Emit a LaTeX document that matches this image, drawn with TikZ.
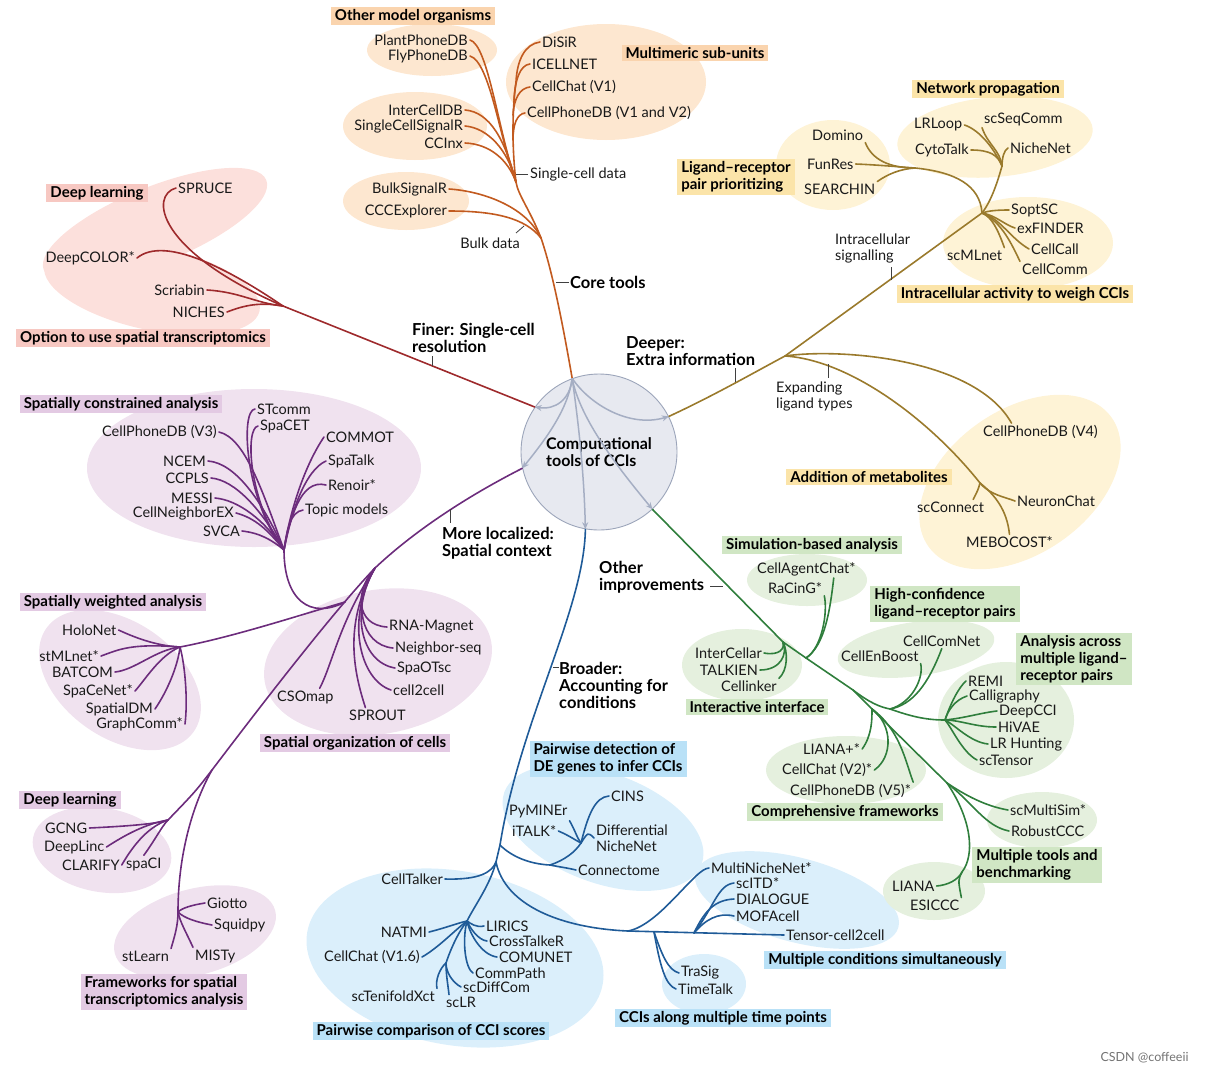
\documentclass[tikz,border=0pt]{standalone}
\usepackage{fontspec}
\setmainfont{Lato}
\usetikzlibrary{arrows.meta}
\definecolor{corecol}{HTML}{C25A1F}
\definecolor{coreblob}{HTML}{FDE7D0}
\definecolor{corehdr}{HTML}{FAD4AE}
\definecolor{redcol}{HTML}{9E2A2C}
\definecolor{redblob}{HTML}{FCE0DC}
\definecolor{redhdr}{HTML}{F7C8C2}
\definecolor{goldcol}{HTML}{9A7A2C}
\definecolor{goldblob}{HTML}{FEF3D6}
\definecolor{goldhdr}{HTML}{FBE4A9}
\definecolor{purcol}{HTML}{6C2C7C}
\definecolor{purblob}{HTML}{F0E2EF}
\definecolor{purhdr}{HTML}{E3CAE3}
\definecolor{blucol}{HTML}{1F5B98}
\definecolor{blublob}{HTML}{DBEFFB}
\definecolor{bluhdr}{HTML}{B9E1F7}
\definecolor{grncol}{HTML}{2F7E3C}
\definecolor{grnblob}{HTML}{E5F0DE}
\definecolor{grnhdr}{HTML}{D0E6C4}
\definecolor{cirfill}{HTML}{E7E9F0}
\definecolor{cirdraw}{HTML}{9CA5BA}
\definecolor{arrgray}{HTML}{A5AEC3}
\tikzset{
  br/.style     = {line width=1.6pt,line cap=round},
  tool/.style   = {font=\fontsize{14.5}{16}\selectfont,text=black!90,inner sep=2pt},
  note/.style   = {font=\fontsize{14.5}{16}\selectfont,text=black!90,inner sep=1pt,align=left},
  lead/.style   = {font=\fontsize{16.5}{17}\selectfont\bfseries,inner sep=1pt,align=left},
  hdr/.style    = {fill=#1,font=\fontsize{15}{17}\selectfont\bfseries,inner xsep=4pt,inner ysep=2.5pt,align=left},
  tick/.style   = {line width=0.8pt,draw=black!75},
  cirarr/.style = {-{Stealth[length=7pt,width=6pt]},line width=1.5pt,draw=arrgray}
}

\begin{document}
\begin{tikzpicture}[x=1pt,y=-1pt]
\useasboundingbox (0,0) rectangle (1206,1074);

% background blobs
\fill[coreblob] (432,50) ellipse [x radius=65pt,y radius=26pt];
\fill[coreblob] (606,82) ellipse [x radius=100pt,y radius=58pt];
\fill[coreblob] (415,126) ellipse [x radius=72pt,y radius=34pt];
\fill[coreblob] (406,201) ellipse [x radius=63pt,y radius=29pt];
\fill[redblob,rotate around={22:(155,225)}] (155,225) ellipse [x radius=120pt,y radius=38pt];
\fill[redblob,rotate around={-12:(152,288)}] (152,288) ellipse [x radius=110pt,y radius=42pt];
\fill[goldblob] (833,165) ellipse [x radius=57pt,y radius=45pt];
\fill[goldblob,rotate around={5:(995,137)}] (995,137) ellipse [x radius=98pt,y radius=40pt];
\fill[goldblob] (1028,243) ellipse [x radius=85pt,y radius=46pt];
\fill[goldblob,rotate around={35:(1020,482)}] (1020,482) ellipse [x radius=112pt,y radius=72pt];
\fill[purblob] (254,468) ellipse [x radius=167pt,y radius=79pt];
\fill[purblob,rotate around={-35:(120,680)}] (120,680) ellipse [x radius=90pt,y radius=58pt];
\fill[purblob,rotate around={10:(378,662)}] (378,662) ellipse [x radius=115pt,y radius=72pt];
\fill[purblob,rotate around={-10:(102,850)}] (102,850) ellipse [x radius=70pt,y radius=42pt];
\fill[purblob,rotate around={15:(195,932)}] (195,932) ellipse [x radius=83pt,y radius=43pt];
\fill[blublob,rotate around={-20:(603,828)}] (603,828) ellipse [x radius=105pt,y radius=55pt];
\fill[blublob,rotate around={-10:(455,958)}] (455,958) ellipse [x radius=150pt,y radius=87pt];
\fill[blublob,rotate around={-15:(797,900)}] (797,900) ellipse [x radius=105pt,y radius=42pt];
\fill[blublob] (704,984) ellipse [x radius=42pt,y radius=30pt];
\fill[grnblob] (807,580) ellipse [x radius=60pt,y radius=26pt];
\fill[grnblob] (742,665) ellipse [x radius=60pt,y radius=36pt];
\fill[grnblob,rotate around={8:(916,649)}] (916,649) ellipse [x radius=79pt,y radius=27pt];
\fill[grnblob] (1006,720) ellipse [x radius=68pt,y radius=58pt];
\fill[grnblob] (846,770) ellipse [x radius=80pt,y radius=34pt];
\fill[grnblob] (1042,820) ellipse [x radius=55pt,y radius=28pt];
\fill[grnblob] (934,891) ellipse [x radius=51pt,y radius=29pt];

% group headers
\node[hdr=corehdr] (hotherorg) at (413,16) {Other model organisms};
\node[hdr=corehdr] (hmulti) at (695,53) {Multimeric sub-units};
\node[hdr=redhdr] (hdeepr) at (97,193) {Deep learning};
\node[hdr=redhdr] (hoption) at (143,338) {Option to use spatial transcriptomics};
\node[hdr=goldhdr] (hnetwork) at (988,89) {Network propagation};
\node[hdr=goldhdr] (hligand) at (736,177) {Ligand--receptor\\pair prioritizing};
\node[hdr=goldhdr] (hintra) at (1015,294) {Intracellular activity to weigh CCIs};
\node[hdr=goldhdr] (hmetab) at (869,477) {Addition of metabolites};
\node[hdr=purhdr] (hconstr) at (121,404) {Spatially constrained analysis};
\node[hdr=purhdr] (hweight) at (113,602) {Spatially weighted analysis};
\node[hdr=purhdr] (horgan) at (355,743) {Spatial organization of cells};
\node[hdr=purhdr] (hdeepp) at (70,800) {Deep learning};
\node[hdr=purhdr] (hframe) at (164,992) {Frameworks for spatial\\transcriptomics analysis};
\node[hdr=bluhdr] (hdegene) at (608,759) {Pairwise detection of\\DE genes to infer CCIs};
\node[hdr=bluhdr] (hpairw) at (431,1031) {Pairwise comparison of CCI scores};
\node[hdr=bluhdr] (hmulcond) at (885,960) {Multiple conditions simultaneously};
\node[hdr=bluhdr] (htime) at (723,1018) {CCIs along multiple time points};
\node[hdr=grnhdr] (hsimul) at (812,545) {Simulation-based analysis};
\node[hdr=grnhdr] (hhighc) at (945,604) {High-confidence\\ligand--receptor pairs};
\node[hdr=grnhdr] (hacross) at (1074,659) {Analysis across\\multiple ligand--\\receptor pairs};
\node[hdr=grnhdr] (hinter) at (757,707) {Interactive interface};
\node[hdr=grnhdr] (hcompr) at (845,812) {Comprehensive frameworks};
\node[hdr=grnhdr] (hbench) at (1037,865) {Multiple tools and\\benchmarking};

% centre
\node[circle,draw=cirdraw,fill=cirfill,line width=0.9pt,minimum size=156pt,inner sep=0pt,
      font=\fontsize{16}{17}\selectfont\bfseries,align=left] (cct) at (599,452) {Computational\\tools of CCIs};
\coordinate (ctop) at (cct.110);

% ---------- core tools (orange)
\node[tool,left] (plant) at (470,40) {PlantPhoneDB};
\node[tool,left] (fly) at (470,56) {FlyPhoneDB};
\node[tool,right] (disir) at (540,42) {DiSiR};
\node[tool,right] (icell) at (530,64) {ICELLNET};
\node[tool,right] (cchat1) at (530,87) {CellChat (V1)};
\node[tool,right] (cpdb12) at (525,113) {CellPhoneDB (V1 and V2)};
\node[tool,left] (icdb) at (465,110) {InterCellDB};
\node[tool,left] (scsr) at (465,126) {SingleCellSignalR};
\node[tool,left] (ccinx) at (465,143) {CCInx};
\node[tool,left] (bsr) at (449,189) {BulkSignalR};
\node[tool,left] (ccce) at (449,211) {CCCExplorer};
\node[tool,right] (scdata) at (528,174) {Single-cell data};
\node[tool] (bulk) at (490,243) {Bulk data};
\node[lead,right] (coretools) at (569,282) {Core tools};
\coordinate (jbulk) at (541,238);
\coordinate (jsc) at (516,182);
\coordinate (jstem) at (516,82);
\begin{scope}[br,draw=corecol]
  \draw (ctop) .. controls (562,320) and (552,270) .. (jbulk) .. controls (530,210) and (518,195) .. (jsc);
  \draw (jsc) .. controls (512,150) and (512,110) .. (jstem);
  \draw (disir.west) .. controls (525,44) and (517,60) .. (jstem);
  \draw (icell.west) .. controls (520,65) and (515,80) .. (514,100);
  \draw (cchat1.west) .. controls (520,88) and (514,98) .. (513,115);
  \draw (cpdb12.west) .. controls (517,114) and (513,124) .. (513,140);
  \draw (plant.east) .. controls (488,45) and (498,130) .. (jsc);
  \draw (fly.east) .. controls (490,62) and (500,140) .. (jsc);
  \draw (icdb.east) .. controls (490,112) and (505,140) .. (jsc);
  \draw (scsr.east) .. controls (488,128) and (508,150) .. (jsc);
  \draw (ccinx.east) .. controls (490,144) and (508,160) .. (jsc);
  \draw (bsr.east) .. controls (480,191) and (525,205) .. (jbulk);
  \draw (ccce.east) .. controls (495,211) and (525,218) .. (jbulk);
\end{scope}
\draw[tick] (scdata.west) -- ++(-12,0);
\draw[tick] (coretools.west) -- ++(-13,0);
\draw[tick] (516,233) -- (524,226);

% ---------- finer (red)
\node[tool,right] (spruce) at (176,188) {SPRUCE};
\node[tool,left] (dcolor) at (137,258) {DeepCOLOR*};
\node[tool,left] (scriabin) at (207,290) {Scriabin};
\node[tool,left] (niches) at (227,312) {NICHES};
\node[lead,right] (finer) at (411,338) {Finer: Single-cell\\resolution};
\coordinate (jred) at (283,306);
\begin{scope}[br,draw=redcol]
  \draw (cct.145) -- (jred);
  \draw (spruce.west) .. controls (150,195) and (155,250) .. (jred);
  \draw (dcolor.east) .. controls (165,235) and (230,270) .. (jred);
  \draw (scriabin.east) .. controls (240,292) and (255,303) .. (jred);
  \draw (niches.east) .. controls (245,305) and (260,302) .. (jred);
\end{scope}
\draw[tick] (432,356) -- (432,366);

% ---------- deeper (gold)
\node[tool,right] (lrloop) at (912,125) {LRLoop};
\node[tool,right] (scseq) at (982,119) {scSeqComm};
\node[tool,right] (cytotalk) at (913,150) {CytoTalk};
\node[tool,right] (nichenet) at (1008,148) {NicheNet};
\node[tool,right] (domino) at (810,135) {Domino};
\node[tool,right] (funres) at (805,164) {FunRes};
\node[tool,right] (searchin) at (802,189) {SEARCHIN};
\node[tool,right] (soptsc) at (1009,210) {SoptSC};
\node[tool,right] (exfinder) at (1015,228) {exFINDER};
\node[tool,right] (cellcall) at (1029,249) {CellCall};
\node[tool,right] (cellcomm) at (1020,269) {CellComm};
\node[tool,right] (scmlnet) at (945,255) {scMLnet};
\node[tool,right] (cpv4) at (981,432) {CellPhoneDB (V4)};
\node[tool,right] (neuron) at (1015,501) {NeuronChat};
\node[tool,right] (scconnect) at (915,507) {scConnect};
\node[tool,right] (mebo) at (964,542) {MEBOCOST*};
\node[note,right] (intrasig) at (834,248) {Intracellular\\signalling};
\node[note,right] (expand) at (775,396) {Expanding\\ligand types};
\node[lead,right] (deeper) at (625,351) {Deeper:\\Extra information};
\coordinate (jexp) at (785,356);
\coordinate (jintra) at (982,213);
\coordinate (jnet) at (1002,166);
\coordinate (jlig) at (915,168);
\coordinate (jmet) at (980,483);
\begin{scope}[br,draw=goldcol]
  \draw (cct.27) .. controls (715,395) and (755,372) .. (jexp) -- (jintra);
  \draw (jintra) .. controls (992,200) and (998,180) .. (jnet);
  \draw (lrloop.east) .. controls (980,130) and (995,150) .. (jnet);
  \draw (cytotalk.east) .. controls (990,150) and (998,155) .. (jnet);
  \draw (scseq.south west) .. controls (988,145) and (1000,150) .. (jnet);
  \draw (nichenet.west) .. controls (1004,150) and (1002,158) .. (jnet);
  \draw (jlig) .. controls (955,172) and (980,185) .. (jintra);
  \draw (domino.south east) .. controls (872,160) and (890,168) .. (jlig);
  \draw (funres.east) .. controls (880,165) and (900,167) .. (jlig);
  \draw (searchin.north east) .. controls (888,174) and (900,169) .. (jlig);
  \draw (soptsc.west) .. controls (995,210) and (988,211) .. (jintra);
  \draw (exfinder.west) .. controls (1005,225) and (995,215) .. (jintra);
  \draw (cellcall.west) .. controls (1010,238) and (1000,218) .. (jintra);
  \draw (cellcomm.north west) .. controls (1012,245) and (1002,222) .. (jintra);
  \draw (scmlnet.north east) .. controls (998,230) and (992,217) .. (jintra);
  \draw (jexp) .. controls (840,348) and (975,358) .. ([xshift=-29pt]cpv4.north);
  \draw (jexp) .. controls (850,360) and (930,420) .. (jmet);
  \draw (jmet) .. controls (978,490) .. ([xshift=-13pt]scconnect.north east);
  \draw (jmet) .. controls (990,495) and (1005,497) .. (neuron.west);
  \draw (jmet) .. controls (995,495) and (1007,510) .. (mebo.north);
\end{scope}
\draw[tick] (735,382) -- (735,368);
\draw[tick] (891,280) -- (891,267);
\draw[tick] (828,364) -- (828,378);

% ---------- more localized (purple)
\node[tool,right] (stcomm) at (255,409) {STcomm};
\node[tool,right] (spacet) at (258,426) {SpaCET};
\node[tool,left] (cpv3) at (219,432) {CellPhoneDB (V3)};
\node[tool,right] (commot) at (324,437) {COMMOT};
\node[tool,right] (spatalk) at (326,461) {SpaTalk};
\node[tool,right] (renoir) at (326,485) {Renoir*};
\node[tool,left] (ncem) at (208,461) {NCEM};
\node[tool,left] (ccpls) at (211,478) {CCPLS};
\node[tool,left] (messi) at (215,498) {MESSI};
\node[tool,left] (cnex) at (236,513) {CellNeighborEX};
\node[tool,left] (svca) at (242,531) {SVCA};
\node[tool,right] (topic) at (303,510) {Topic models};
\node[tool,right] (holonet) at (60,630) {HoloNet};
\node[tool,left] (stmlnet) at (101,656) {stMLnet*};
\node[tool,left] (batcom) at (115,672) {BATCOM};
\node[tool,left] (spacenet) at (135,691) {SpaCeNet*};
\node[tool,left] (spatialdm) at (155,709) {SpatialDM};
\node[tool,left] (graphcomm) at (185,724) {GraphComm*};
\node[tool,right] (rnamag) at (387,627) {RNA-Magnet};
\node[tool,right] (nbseq) at (393,648) {Neighbor-seq};
\node[tool,right] (spaotsc) at (395,668) {SpaOTsc};
\node[tool,right] (c2c) at (391,690) {cell2cell};
\node[tool,right] (sprout) at (347,715) {SPROUT};
\node[tool,right] (csomap) at (275,697) {CSOmap};
\node[tool,right] (gcng) at (43,828) {GCNG};
\node[tool,right] (deeplinc) at (42,847) {DeepLinc};
\node[tool,right] (clarify) at (60,865) {CLARIFY};
\node[tool,right] (spaci) at (124,864) {spaCI};
\node[tool,right] (giotto) at (205,903) {Giotto};
\node[tool,right] (squidpy) at (212,925) {Squidpy};
\node[tool,right] (stlearn) at (120,956) {stLearn};
\node[tool,right] (misty) at (193,956) {MISTy};
\node[lead,right] (local) at (441,543) {More localized:\\Spatial context};
\coordinate (jp1) at (375,568);
\coordinate (jp2) at (345,602);
\coordinate (jfw) at (212,770);
\coordinate (jdl) at (168,820);
\coordinate (jfr) at (178,912);
\coordinate (jwt) at (180,647);
\coordinate (jcon) at (284,550);
\begin{scope}[br,draw=purcol]
  \draw (cct.192) .. controls (460,500) and (410,535) .. (jp1) .. controls (330,615) and (250,720) .. (jfw)
        .. controls (195,792) .. (jdl);
  \draw (jfw) .. controls (195,800) and (178,850) .. (jfr);
  \draw (giotto.west) .. controls (192,905) and (182,908) .. (jfr);
  \draw (squidpy.west) .. controls (196,922) and (184,918) .. (jfr);
  \draw (stlearn.north east) .. controls (175,935) and (178,925) .. (jfr);
  \draw (misty.north west) .. controls (186,932) and (180,922) .. (jfr);
  \draw (gcng.east) .. controls (130,826) and (155,824) .. (jdl);
  \draw (deeplinc.east) .. controls (125,835) and (145,824) .. (jdl);
  \draw (clarify.east) .. controls (135,842) and (150,826) .. (jdl);
  \draw (spaci.north) .. controls (155,840) and (162,826) .. (jdl);
  \draw (jwt) .. controls (233,637) and (300,615) .. (jp2);
  \draw (holonet.east) .. controls (140,640) and (160,646) .. (jwt);
  \draw (stmlnet.east) .. controls (118,650) and (130,643) .. (jwt);
  \draw (batcom.east) .. controls (135,670) and (155,650) .. (jwt);
  \draw (spacenet.east) .. controls (145,680) and (160,655) .. (jwt);
  \draw (spatialdm.east) .. controls (168,690) and (178,665) .. (jwt);
  \draw (graphcomm.east) .. controls (188,700) and (185,665) .. (jwt);
  \draw (jp2) .. controls (310,620) and (284,600) .. (jcon);
  \draw (stcomm.west) .. controls (240,410) and (245,500) .. (jcon);
  \draw (spacet.west) .. controls (245,428) and (248,500) .. (jcon);
  \draw (cpv3.east) .. controls (245,438) and (262,490) .. (jcon);
  \draw (ncem.east) .. controls (235,463) and (262,500) .. (jcon);
  \draw (ccpls.east) .. controls (235,480) and (262,510) .. (jcon);
  \draw (messi.east) .. controls (238,500) and (265,520) .. (jcon);
  \draw (cnex.east) .. controls (255,518) and (268,530) .. (jcon);
  \draw (svca.east) .. controls (260,533) and (272,540) .. (jcon);
  \draw (commot.west) .. controls (305,465) and (290,510) .. (jcon);
  \draw (spatalk.west) .. controls (305,470) and (290,515) .. (jcon);
  \draw (renoir.west) .. controls (300,478) and (290,520) .. (jcon);
  \draw (topic.west) .. controls (290,512) and (287,530) .. (jcon);
  \draw (rnamag.west) .. controls (355,625) and (355,590) .. (jp1);
  \draw (nbseq.west) .. controls (360,645) and (352,600) .. (jp1);
  \draw (spaotsc.west) .. controls (360,662) and (350,610) .. (jp1);
  \draw (c2c.west) .. controls (360,680) and (345,620) .. (jp1);
  \draw ([xshift=-12pt]sprout.north) .. controls (355,675) and (342,625) .. (jp1);
  \draw ([xshift=-16pt]csomap.north east) .. controls (332,665) and (340,620) .. (jp1);
\end{scope}
\draw[tick] (450,509) -- (450,523);

% ---------- broader (blue)
\node[tool,right] (pyminer) at (507,812) {PyMINEr};
\node[tool,right] (italk) at (510,831) {iTALK*};
\node[tool,right] (cins) at (609,796) {CINS};
\node[tool,right,align=left] (diffnn) at (594,838) {Differential\\NicheNet};
\node[tool,right] (connectome) at (576,870) {Connectome};
\node[tool,left] (celltalker) at (445,879) {CellTalker};
\node[tool,left] (natmi) at (429,932) {NATMI};
\node[tool,left] (cchat16) at (422,957) {CellChat (V1.6)};
\node[tool,left] (sctxct) at (437,996) {scTenifoldXct};
\node[tool,right] (sclr) at (444,1002) {scLR};
\node[tool,right] (lirics) at (484,926) {LIRICS};
\node[tool,right] (crosst) at (487,941) {CrossTalkeR};
\node[tool,right] (comunet) at (497,957) {COMUNET};
\node[tool,right] (commpath) at (473,973) {CommPath};
\node[tool,right] (scdiff) at (461,987) {scDiffCom};
\node[tool,right] (mnn) at (709,868) {MultiNicheNet*};
\node[tool,right] (scitd) at (734,883) {scITD*};
\node[tool,right] (dialogue) at (734,899) {DIALOGUE};
\node[tool,right] (mofa) at (734,916) {MOFAcell};
\node[tool,right] (tc2c) at (784,935) {Tensor-cell2cell};
\node[tool,right] (trasig) at (679,973) {TraSig};
\node[tool,right] (timetalk) at (676,989) {TimeTalk};
\node[lead,right] (broader) at (558,685) {Broader:\\Accounting for\\conditions};
\coordinate (jde) at (500,845);
\coordinate (jct) at (496,862);
\coordinate (jdec) at (550,865);
\coordinate (jde2) at (581,843);
\coordinate (jpc) at (467,921);
\coordinate (jsub) at (446,963);
\coordinate (jmn) at (628,931);
\coordinate (jtt) at (654,932);
\coordinate (jsc2) at (694,933);
\begin{scope}[br,draw=blucol]
  \draw (cct.260) .. controls (584,610) and (520,720) .. (jde) -- (jct);
  \draw (jct) .. controls (490,885) and (475,905) .. (jpc);
  \draw (jct) .. controls (505,905) and (560,928) .. (jmn) -- (tc2c.west);
  \draw (celltalker.east) .. controls (480,880) and (492,872) .. (jct);
  \draw (jde) .. controls (512,857) and (530,864) .. (jdec) .. controls (560,867) and (568,868) .. (connectome.west);
  \draw (jdec) .. controls (565,860) and (575,852) .. (jde2);
  \draw (cins.west) .. controls (595,797) and (588,815) .. (jde2);
  \draw (diffnn.west) .. controls (588,832) .. (jde2);
  \draw (pyminer.south east) .. controls (575,830) and (577,838) .. (jde2);
  \draw (italk.east) .. controls (570,836) and (575,840) .. (jde2);
  \draw (natmi.east) .. controls (445,928) and (458,923) .. (jpc);
  \draw (cchat16.east) .. controls (438,948) and (455,930) .. (jpc);
  \draw (jsub) .. controls (452,945) and (460,930) .. (jpc);
  \draw (sctxct.north east) .. controls (435,980) and (440,968) .. (jsub);
  \draw ([xshift=5pt]sclr.north west) .. controls (448,985) and (446,975) .. (jsub);
  \draw (scdiff.west) .. controls (452,982) and (446,972) .. (jsub);
  \draw (lirics.west) .. controls (476,928) and (470,923) .. (jpc);
  \draw (crosst.west) .. controls (478,940) and (470,928) .. (jpc);
  \draw (comunet.west) .. controls (482,955) and (470,935) .. (jpc);
  \draw (commpath.west) .. controls (465,968) and (462,940) .. (jpc);
  \draw (jmn) .. controls (660,925) and (695,868) .. (mnn.west);
  \draw (jsc2) .. controls (715,905) and (718,885) .. (scitd.west);
  \draw (jsc2) .. controls (705,910) and (715,900) .. (dialogue.west);
  \draw (jsc2) .. controls (705,920) and (718,912) .. (mofa.west);
  \draw (jtt) .. controls (662,955) and (668,970) .. (trasig.west);
  \draw (jtt) .. controls (660,965) and (665,985) .. (timetalk.west);
\end{scope}
\draw[tick] (553,667) -- (559,667);

% ---------- other improvements (green)
\node[tool,right] (cagent) at (755,569) {CellAgentChat*};
\node[tool,right] (racing) at (766,588) {RaCinG*};
\node[tool,left] (intercellar) at (764,653) {InterCellar};
\node[tool,left] (talkien) at (760,670) {TALKIEN};
\node[tool,right] (cellinker) at (719,686) {Cellinker};
\node[tool,right] (cellcomnet) at (901,641) {CellComNet};
\node[tool,right] (cenb) at (839,656) {CellEnBoost};
\node[tool,right] (remi) at (966,681) {REMI};
\node[tool,right] (calli) at (967,696) {Calligraphy};
\node[tool,right] (deepcci) at (997,711) {DeepCCI};
\node[tool,right] (hivae) at (996,727) {HiVAE};
\node[tool,right] (lrhunt) at (988,744) {LR Hunting};
\node[tool,right] (sctensor) at (977,760) {scTensor};
\node[tool,right] (lianap) at (801,749) {LIANA+*};
\node[tool,right] (cchat2) at (780,770) {CellChat (V2)*};
\node[tool,right] (cpv5) at (788,791) {CellPhoneDB (V5)*};
\node[tool,right] (scms) at (1008,810) {scMultiSim*};
\node[tool,right] (robust) at (1009,831) {RobustCCC};
\node[tool,right] (liana) at (890,886) {LIANA};
\node[tool,right] (esiccc) at (908,905) {ESICCC};
\node[lead,right] (other) at (598,577) {Other\\improvements};
\coordinate (jia) at (783,642);
\coordinate (jsim) at (806,658);
\coordinate (jmid) at (853,690);
\coordinate (jcomp) at (872,709);
\coordinate (jhc) at (890,709);
\coordinate (janl) at (945,720);
\coordinate (jms) at (947,783);
\coordinate (jli) at (962,872);
\begin{scope}[br,draw=grncol]
  \draw (cct.313) -- (jia) -- (jsim) -- (jmid) -- (jcomp) -- (jms) .. controls (972,820) and (975,855) .. (jli)
        .. controls (958,880) .. (esiccc.north east);
  \draw (jmid) .. controls (870,703) and (880,707) .. (jhc) .. controls (910,716) and (925,720) .. (janl)
        .. controls (965,718) and (980,713) .. (deepcci.west);
  \draw (remi.west) .. controls (958,688) and (950,705) .. (janl);
  \draw (calli.west) .. controls (955,700) and (948,710) .. (janl);
  \draw (hivae.west) .. controls (975,727) and (960,720) .. (janl);
  \draw (lrhunt.west) .. controls (970,742) and (955,725) .. (janl);
  \draw (sctensor.west) .. controls (962,752) and (952,728) .. (janl);
  \draw (cellcomnet.south) .. controls (928,685) and (912,705) .. (jhc);
  \draw (cenb.south east) .. controls (924,678) and (912,703) .. (jhc);
  \draw (lianap.east) .. controls (872,735) and (872,720) .. (jcomp);
  \draw (cchat2.east) .. controls (893,757) and (893,725) .. (jcomp);
  \draw (cpv5.north east) .. controls (905,760) and (900,730) .. (jcomp);
  \draw (intercellar.east) .. controls (780,656) and (785,648) .. (jia);
  \draw (talkien.east) .. controls (780,670) and (788,655) .. (jia);
  \draw (cellinker.north east) .. controls (788,670) and (788,652) .. (jia);
  \draw ([xshift=-24pt]cagent.south east) .. controls (830,610) and (825,645) .. (jsim);
  \draw (racing.south east) .. controls (828,612) and (822,648) .. (jsim);
  \draw (jms) .. controls (965,795) and (985,806) .. (scms.west);
  \draw (jms) .. controls (975,805) and (985,826) .. (robust.west);
  \draw (liana.east) .. controls (948,885) and (958,880) .. (jli);
\end{scope}
\draw[tick] (710,586) -- (723,586);

% arrows inside the centre
\draw[cirarr] (ctop) .. controls (570,400) and (555,410) .. (cct.145);
\draw[cirarr] (ctop) .. controls (568,410) and (545,440) .. (cct.192);
\draw[cirarr] (ctop) .. controls (578,420) and (584,470) .. (cct.260);
\draw[cirarr] (ctop) .. controls (580,420) and (620,470) .. (cct.313);
\draw[cirarr] (ctop) .. controls (590,405) and (630,428) .. (cct.27);

\node[font=\fontsize{12.5}{13}\selectfont,text=black!55,left] (mark) at (1192,1058) {CSDN @coffeeii};
\end{tikzpicture}
\end{document}
